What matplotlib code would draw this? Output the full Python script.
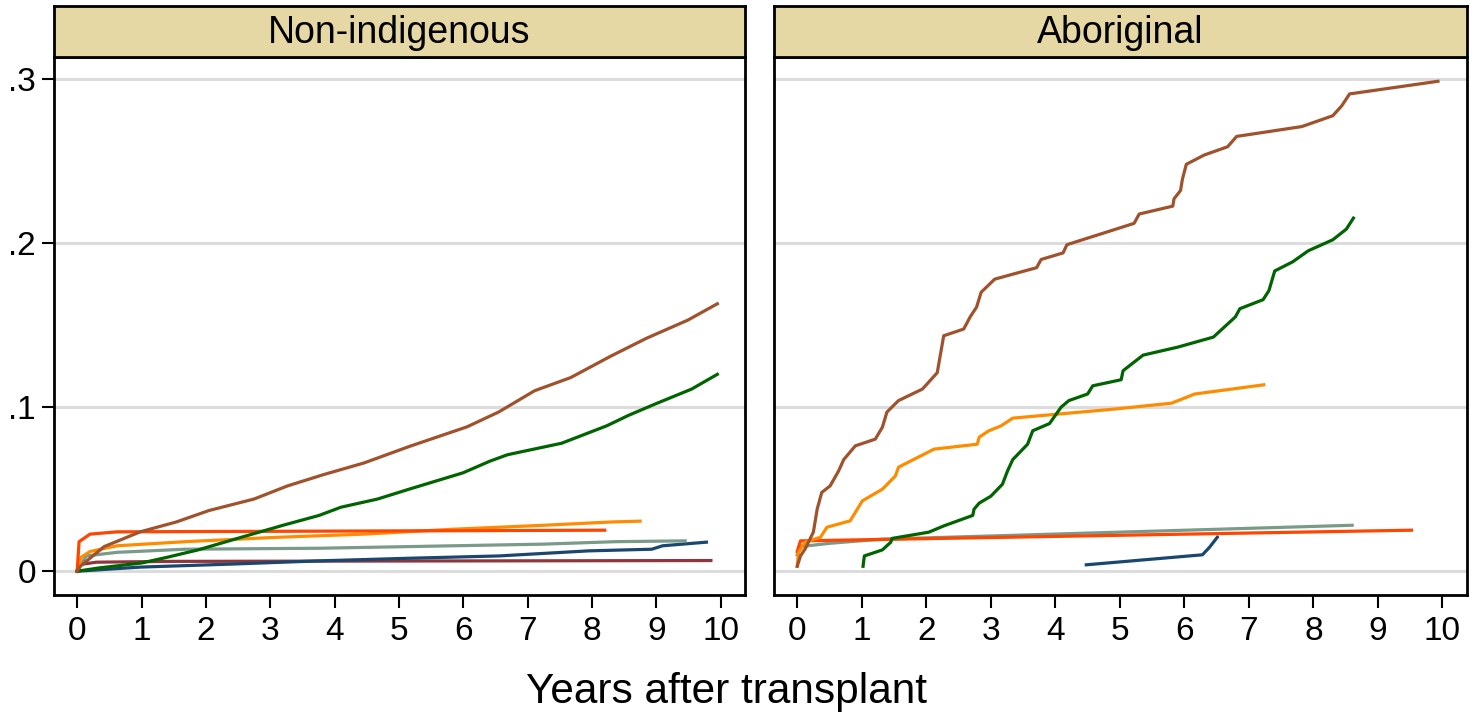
import matplotlib.pyplot as plt

plt.rcParams['font.family'] = ['Liberation Sans', 'DejaVu Sans']

# cumulative incidence, non-indigenous recipients
ni_brown_x = [0, 0.05, 0.14, 0.42, 0.98, 1.54, 2.05, 2.75, 3.27, 3.84, 4.46, 5.16, 6.06, 6.55, 7.11, 7.67, 8.29, 8.85, 9.49, 9.95]
ni_brown_y = [0, 0.003, 0.006, 0.015, 0.024, 0.030, 0.037, 0.044, 0.052, 0.059, 0.066, 0.076, 0.088, 0.097, 0.110, 0.118, 0.131, 0.142, 0.153, 0.163]
ni_green_x = [0, 0.34, 1.0, 1.4, 1.88, 2.58, 3.2, 3.76, 4.1, 4.67, 5.16, 6.0, 6.41, 6.69, 7.53, 8.23, 8.57, 8.99, 9.55, 9.95]
ni_green_y = [0, 0.002, 0.005, 0.0085, 0.013, 0.021, 0.028, 0.034, 0.039, 0.044, 0.050, 0.060, 0.067, 0.071, 0.078, 0.0886, 0.095, 0.102, 0.111, 0.120]
ni_red_x = [0, 0.03, 0.2, 0.62, 8.2]
ni_red_y = [0, 0.018, 0.0226, 0.024, 0.025]
ni_orange_x = [0, 0.06, 0.2, 0.62, 1.68, 3.07, 4.46, 5.85, 7.25, 8.3, 8.75]
ni_orange_y = [0, 0.0085, 0.012, 0.0155, 0.018, 0.0206, 0.0226, 0.0256, 0.028, 0.030, 0.0305]
ni_grey_x = [0, 0.14, 0.62, 1.68, 3.76, 5.85, 7.25, 8.37, 9.45]
ni_grey_y = [0, 0.0093, 0.0115, 0.0134, 0.014, 0.0155, 0.0165, 0.018, 0.0185]
ni_navy_x = [0, 0.98, 2.37, 3.76, 5.16, 6.55, 7.95, 8.93, 9.1, 9.78]
ni_navy_y = [0, 0.0025, 0.0043, 0.0063, 0.0079, 0.0093, 0.0124, 0.0134, 0.0155, 0.0177]
ni_maroon_x = [0, 0.03, 0.3, 1.5, 9.85]
ni_maroon_y = [0, 0.004, 0.0055, 0.006, 0.0065]

# cumulative incidence, Aboriginal recipients
ab_brown_x = [0, 0.05, 0.12, 0.25, 0.31, 0.38, 0.51, 0.64, 0.72, 0.9, 1.21, 1.32, 1.39, 1.57, 1.94, 2.17, 2.27, 2.58, 2.68, 2.78,
              2.85, 3.06, 3.71, 3.78, 4.12, 4.18, 5.22, 5.3, 5.82, 5.84, 5.94, 5.97, 6.03, 6.31, 6.67, 6.81, 7.82, 8.3, 8.44, 8.56, 9.93]
ab_brown_y = [0.003, 0.0093, 0.0134, 0.0238, 0.038, 0.048, 0.052, 0.061, 0.068, 0.0764, 0.0805, 0.0878, 0.097, 0.104, 0.111, 0.121, 0.1435, 0.1476, 0.155, 0.161,
              0.170, 0.178, 0.185, 0.190, 0.194, 0.199, 0.212, 0.2177, 0.2225, 0.227, 0.232, 0.239, 0.248, 0.2537, 0.2587, 0.265, 0.271, 0.2776, 0.2837, 0.2909, 0.2986]
ab_green_x = [1.02, 1.04, 1.32, 1.45, 1.47, 2.04, 2.27, 2.72, 2.74, 2.82, 3.0, 3.18, 3.26, 3.34, 3.57, 3.65, 3.91, 4.09, 4.21, 4.5, 4.58,
              5.02, 5.05, 5.36, 5.9, 6.45, 6.79, 6.86, 7.22, 7.31, 7.4, 7.68, 7.92, 8.3, 8.51, 8.62]
ab_green_y = [0.003, 0.0093, 0.013, 0.0177, 0.020, 0.0238, 0.0276, 0.034, 0.0378, 0.0415, 0.0457, 0.053, 0.0612, 0.068, 0.0774, 0.0856, 0.090, 0.100, 0.104, 0.108, 0.113,
              0.1167, 0.1222, 0.1317, 0.1366, 0.1427, 0.155, 0.160, 0.1655, 0.171, 0.183, 0.1886, 0.1953, 0.202, 0.2085, 0.2152]
ab_orange_x = [0, 0.02, 0.12, 0.36, 0.46, 0.82, 1.01, 1.32, 1.52, 1.57, 2.12, 2.79, 2.82, 2.97, 3.16, 3.34, 4.91, 5.8, 6.16, 7.23]
ab_orange_y = [0.003, 0.0115, 0.0177, 0.0207, 0.0268, 0.0307, 0.0429, 0.050, 0.058, 0.0634, 0.0744, 0.0774, 0.0817, 0.0856, 0.0886, 0.0933, 0.0988, 0.1024, 0.108, 0.1136]
ab_grey_x = [0, 0.05, 0.5, 1.3, 8.6]
ab_grey_y = [0.010, 0.015, 0.017, 0.0195, 0.028]
ab_red_x = [0, 0.05, 9.52]
ab_red_y = [0.012, 0.0185, 0.025]
ab_navy_x = [4.48, 6.28, 6.39, 6.51]
ab_navy_y = [0.0039, 0.010, 0.0146, 0.0207]

c_brown = '#a0522d'
c_green = '#006400'
c_orange = '#ff8c00'
c_red = '#ff4500'
c_grey = '#7a9a8a'
c_navy = '#1a476f'
c_maroon = '#90353b'

panels = [
    ('Non-indigenous', [
        (ni_maroon_x, ni_maroon_y, c_maroon),
        (ni_navy_x, ni_navy_y, c_navy),
        (ni_grey_x, ni_grey_y, c_grey),
        (ni_orange_x, ni_orange_y, c_orange),
        (ni_red_x, ni_red_y, c_red),
        (ni_green_x, ni_green_y, c_green),
        (ni_brown_x, ni_brown_y, c_brown),
    ]),
    ('Aboriginal', [
        (ab_navy_x, ab_navy_y, c_navy),
        (ab_grey_x, ab_grey_y, c_grey),
        (ab_red_x, ab_red_y, c_red),
        (ab_orange_x, ab_orange_y, c_orange),
        (ab_green_x, ab_green_y, c_green),
        (ab_brown_x, ab_brown_y, c_brown),
    ]),
]

fig = plt.figure(figsize=(14.74, 7.14), dpi=100)
W, H = 1474.0, 714.0
lefts = [54, 774]
rights = [745, 1467]
top, bottom, strip_top = 57, 595, 6

for i, (title, lines) in enumerate(panels):
    l, r = lefts[i], rights[i]
    ax = fig.add_axes([l / W, 1 - bottom / H, (r - l) / W, (bottom - top) / H])
    for x, y, c in lines:
        ax.plot(x, y, color=c, lw=2.3, solid_joinstyle='round')
    ax.set_xlim(-0.36, 10.38)
    ax.set_ylim(-0.0145, 0.3134)
    ax.set_xticks(range(11))
    ax.set_yticks([0, 0.1, 0.2, 0.3])
    ax.grid(axis='y', color='#dcdcdc', lw=2.2)
    ax.set_axisbelow(True)
    ax.tick_params(axis='x', length=9, width=1.5, labelsize=24, pad=6)
    if i == 0:
        ax.set_yticklabels(['0', '.1', '.2', '.3'])
        ax.tick_params(axis='y', length=9, width=1.5, labelsize=24, pad=4)
    else:
        ax.tick_params(axis='y', length=0, labelleft=False)
    for s in ax.spines.values():
        s.set_linewidth(2.0)

    sax = fig.add_axes([l / W, 1 - top / H, (r - l) / W, (top - strip_top) / H])
    sax.set_facecolor('#e5d8a4')
    sax.set_xticks([])
    sax.set_yticks([])
    for s in sax.spines.values():
        s.set_linewidth(2.0)
    sax.text(0.5, 0.47, title, ha='center', va='center', fontsize=27, transform=sax.transAxes)

fig.text(727 / W, 1 - 692 / H, 'Years after transplant', ha='center', va='center', fontsize=30.5)

fig.savefig('out.png', dpi=100)
